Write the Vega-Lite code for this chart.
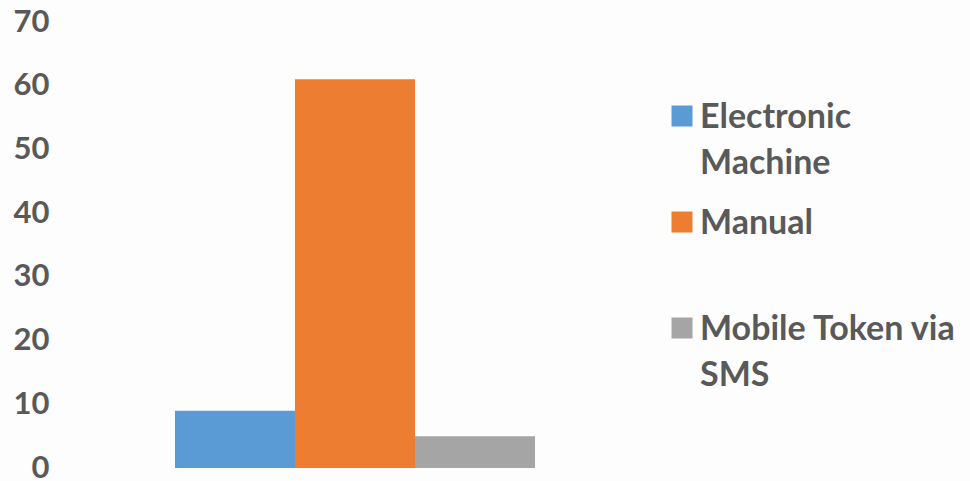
{
  "$schema": "https://vega.github.io/schema/vega-lite/v6.json",
  "width": 590,
  "height": 446,
  "autosize": {"type": "none"},
  "padding": {"left": 60, "top": 22, "right": 320, "bottom": 13},
  "background": "#fdfdfd",
  "config": {
    "view": {"stroke": null},
    "font": "Lato"
  },
  "data": {
    "values": [
      {"method": "Electronic Machine", "value": 9},
      {"method": "Manual", "value": 61},
      {"method": "Mobile Token via SMS", "value": 5}
    ]
  },
  "mark": {"type": "bar"},
  "encoding": {
    "x": {
      "field": "method",
      "type": "nominal",
      "sort": null,
      "axis": null,
      "scale": {"paddingInner": 0, "paddingOuter": 0.958}
    },
    "y": {
      "field": "value",
      "type": "quantitative",
      "scale": {"domain": [0, 70]},
      "axis": {
        "title": null,
        "values": [0, 10, 20, 30, 40, 50, 60, 70],
        "grid": false,
        "domain": false,
        "ticks": false,
        "labelFont": "Lato",
        "labelFontSize": 31,
        "labelFontWeight": "bold",
        "labelColor": "#595959",
        "labelPadding": 11,
        "labelBaseline": "middle"
      }
    },
    "color": {
      "field": "method",
      "type": "nominal",
      "sort": null,
      "scale": {
        "domain": ["Electronic Machine", "Manual", "Mobile Token via SMS"],
        "range": ["#5B9BD5", "#ED7D31", "#A5A5A5"]
      },
      "legend": {
        "title": null,
        "orient": "none",
        "legendX": 605,
        "legendY": 62,
        "padding": 0,
        "symbolType": "M-1,0.43H1V2.43H-1Z",
        "symbolSize": 441,
        "symbolStrokeWidth": 0,
        "symbolOpacity": 1,
        "labelFont": "Lato",
        "labelFontSize": 34,
        "labelFontWeight": "bold",
        "labelColor": "#595959",
        "labelBaseline": "top",
        "labelOffset": 1,
        "labelLimit": 0,
        "rowPadding": 9,
        "labelExpr": "split(datum.label == 'Electronic Machine' ? 'Electronic|Machine' : datum.label == 'Manual' ? 'Manual| ' : 'Mobile Token via|SMS', '|')",
        "encode": {
          "labels": {"update": {"lineHeight": {"value": 46}}}
        }
      }
    }
  }
}
